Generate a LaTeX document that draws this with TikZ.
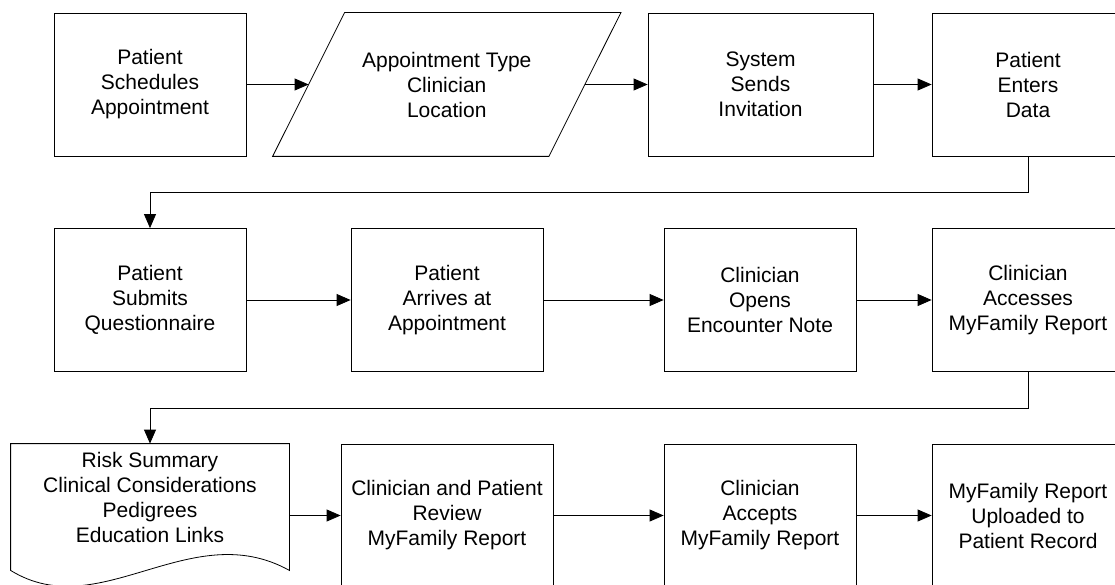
\documentclass[tikz,border=0pt]{standalone}
\usepackage{fontspec}
\setmainfont{Liberation Sans}
\usetikzlibrary{arrows.meta}

\begin{document}
\begin{tikzpicture}[
  x=1pt, y=-1pt, line width=0.8pt,
  font=\fontsize{21pt}{25pt}\selectfont,
  box/.style={draw, align=center, minimum width=192pt, minimum height=143pt, inner sep=2pt},
  iobox/.style={align=center, minimum width=275.5pt, minimum height=143pt, inner sep=2pt},
  doc/.style={align=center, minimum width=278pt, minimum height=106pt, inner sep=2pt},
  line/.style={-{Triangle[length=14pt,width=12pt]}}
]
\path[use as bounding box] (0,0) rectangle (1115,585);
\clip (0,0) rectangle (1115,585);

% first row
\node[box] (schedule) at (150,84.5) {Patient\\Schedules\\Appointment};
\node[iobox] (apptinfo) at (446.75,84.5) {Appointment Type\\Clinician\\Location};
\draw ([xshift=36pt]apptinfo.north west) -- ([xshift=36pt]apptinfo.north east)
  -- ([xshift=-36pt]apptinfo.south east) -- ([xshift=-36pt]apptinfo.south west) -- cycle;
\node[box, minimum width=225pt] (invite) at (760.5,84.5) {System\\Sends\\Invitation};
\node[box] (enter) at (1028,84.5) {Patient\\Enters\\Data};

% second row
\node[box] (submit) at (150,300) {Patient\\Submits\\Questionnaire};
\node[box] (arrive) at (447,300) {Patient\\Arrives at\\Appointment};
\node[box] (opens) at (760,300) {Clinician\\Opens\\Encounter Note};
\node[box] (access) at (1028,300) {Clinician\\Accesses\\MyFamily Report};

% third row
\node[doc] (summary) at (150,497) {Risk Summary\\Clinical Considerations\\Pedigrees\\Education Links};
\draw (summary.north west) -- ([yshift=-20pt]summary.south west)
  .. controls ([shift={(89,75)}]summary.south west) and ([shift={(-99,-35)}]summary.south east)
  .. ([yshift=-20pt]summary.south east) -- (summary.north east) -- cycle;
\node[box, minimum width=212pt] (review) at (447,515.5) {Clinician and Patient\\Review\\MyFamily Report};
\node[box] (accept) at (760,515.5) {Clinician\\Accepts\\MyFamily Report};
\node[box] (upload) at (1028,515.5) {MyFamily Report\\Uploaded to\\Patient Record};

\draw[line] (schedule) -- (apptinfo);
\draw[line] (apptinfo) -- (invite);
\draw[line] (invite) -- (enter);
\draw[line] (enter.south) -- ++(0,36) -| (submit.north);
\draw[line] (submit) -- (arrive);
\draw[line] (arrive) -- (opens);
\draw[line] (opens) -- (access);
\draw[line] (access.south) -- ++(0,36) -| (summary.north);
\draw[line] (summary.east |- review.west) -- (review.west);
\draw[line] (review) -- (accept);
\draw[line] (accept) -- (upload);
\end{tikzpicture}
\end{document}
